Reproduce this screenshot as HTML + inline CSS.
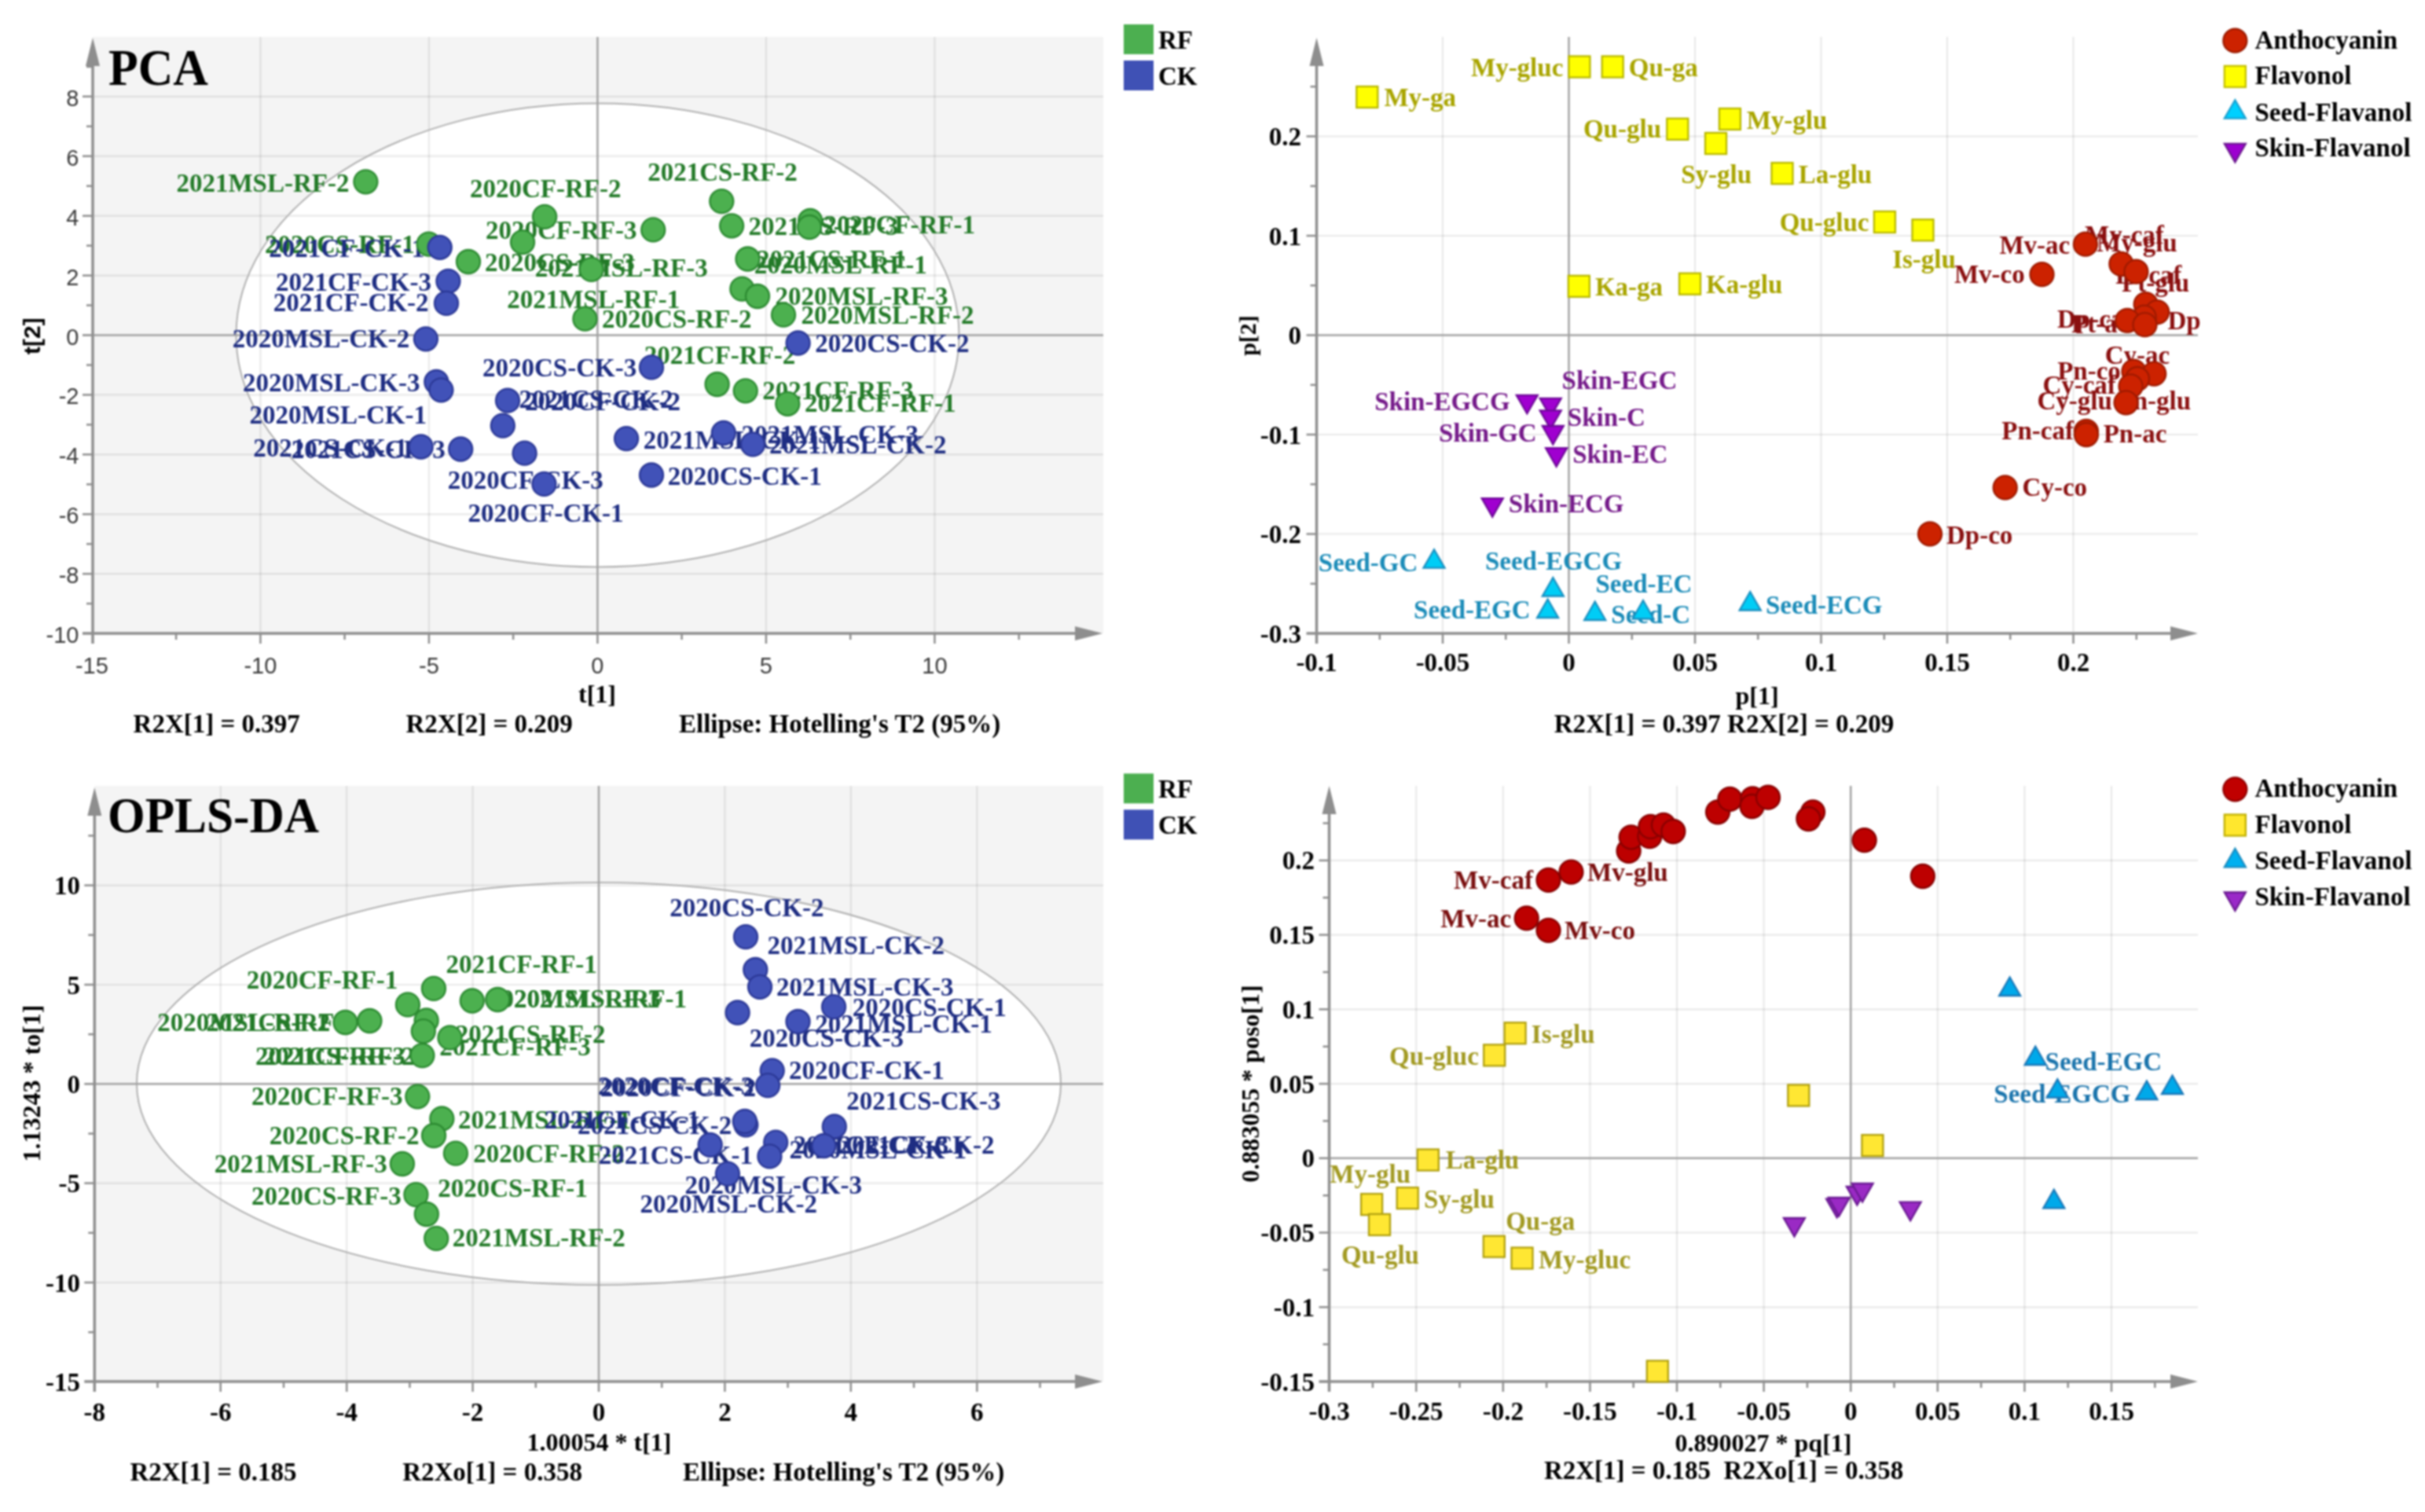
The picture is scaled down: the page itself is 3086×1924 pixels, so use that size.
<!DOCTYPE html>
<html><head><meta charset="utf-8"><style>html,body{margin:0;padding:0;background:#fff;width:3086px;height:1924px;overflow:hidden}svg{display:block;filter:blur(0.9px)}</style></head><body>
<svg width="3086" height="1924" viewBox="0 0 3086 1924">
<rect width="3086" height="1924" fill="#fff"/>
<rect x="118" y="47" width="1286" height="759" fill="#f4f4f4"/>
<ellipse cx="760.5" cy="426.4" rx="460" ry="295" fill="#fff"/>
<line x1="331.4" y1="47" x2="331.4" y2="806" stroke="#000" stroke-opacity="0.085" stroke-width="2.2"/>
<line x1="545.9" y1="47" x2="545.9" y2="806" stroke="#000" stroke-opacity="0.085" stroke-width="2.2"/>
<line x1="974.9" y1="47" x2="974.9" y2="806" stroke="#000" stroke-opacity="0.085" stroke-width="2.2"/>
<line x1="1189.4" y1="47" x2="1189.4" y2="806" stroke="#000" stroke-opacity="0.085" stroke-width="2.2"/>
<line x1="118" y1="730.2" x2="1404" y2="730.2" stroke="#000" stroke-opacity="0.085" stroke-width="2.2"/>
<line x1="118" y1="654.3" x2="1404" y2="654.3" stroke="#000" stroke-opacity="0.085" stroke-width="2.2"/>
<line x1="118" y1="578.3" x2="1404" y2="578.3" stroke="#000" stroke-opacity="0.085" stroke-width="2.2"/>
<line x1="118" y1="502.4" x2="1404" y2="502.4" stroke="#000" stroke-opacity="0.085" stroke-width="2.2"/>
<line x1="118" y1="350.6" x2="1404" y2="350.6" stroke="#000" stroke-opacity="0.085" stroke-width="2.2"/>
<line x1="118" y1="274.7" x2="1404" y2="274.7" stroke="#000" stroke-opacity="0.085" stroke-width="2.2"/>
<line x1="118" y1="198.7" x2="1404" y2="198.7" stroke="#000" stroke-opacity="0.085" stroke-width="2.2"/>
<line x1="118" y1="122.8" x2="1404" y2="122.8" stroke="#000" stroke-opacity="0.085" stroke-width="2.2"/>
<ellipse cx="760.5" cy="426.4" rx="460" ry="295" fill="none" stroke="#b0b0b0" stroke-width="2"/>
<line x1="760.4" y1="47" x2="760.4" y2="806" stroke="#a2a2a2" stroke-width="2.5"/>
<line x1="118" y1="426.5" x2="1404" y2="426.5" stroke="#a2a2a2" stroke-width="2.5"/>
<line x1="118" y1="78" x2="118" y2="819" stroke="#8e8e8e" stroke-width="3.5"/>
<line x1="105" y1="806" x2="1373" y2="806" stroke="#8e8e8e" stroke-width="3.5"/>
<path d="M118 48 L127 84 L109 84 Z" fill="#8e8e8e"/>
<path d="M1403 806 L1368 797 L1368 815 Z" fill="#8e8e8e"/>
<line x1="331.4" y1="806" x2="331.4" y2="819" stroke="#8e8e8e" stroke-width="2.5"/>
<line x1="545.9" y1="806" x2="545.9" y2="819" stroke="#8e8e8e" stroke-width="2.5"/>
<line x1="760.4" y1="806" x2="760.4" y2="819" stroke="#8e8e8e" stroke-width="2.5"/>
<line x1="974.9" y1="806" x2="974.9" y2="819" stroke="#8e8e8e" stroke-width="2.5"/>
<line x1="1189.4" y1="806" x2="1189.4" y2="819" stroke="#8e8e8e" stroke-width="2.5"/>
<line x1="224.1" y1="806" x2="224.1" y2="814" stroke="#8e8e8e" stroke-width="2.5"/>
<line x1="438.6" y1="806" x2="438.6" y2="814" stroke="#8e8e8e" stroke-width="2.5"/>
<line x1="653.1" y1="806" x2="653.1" y2="814" stroke="#8e8e8e" stroke-width="2.5"/>
<line x1="867.6" y1="806" x2="867.6" y2="814" stroke="#8e8e8e" stroke-width="2.5"/>
<line x1="1082.2" y1="806" x2="1082.2" y2="814" stroke="#8e8e8e" stroke-width="2.5"/>
<line x1="1296.7" y1="806" x2="1296.7" y2="814" stroke="#8e8e8e" stroke-width="2.5"/>
<line x1="105" y1="730.2" x2="118" y2="730.2" stroke="#8e8e8e" stroke-width="2.5"/>
<line x1="105" y1="654.3" x2="118" y2="654.3" stroke="#8e8e8e" stroke-width="2.5"/>
<line x1="105" y1="578.3" x2="118" y2="578.3" stroke="#8e8e8e" stroke-width="2.5"/>
<line x1="105" y1="502.4" x2="118" y2="502.4" stroke="#8e8e8e" stroke-width="2.5"/>
<line x1="105" y1="426.5" x2="118" y2="426.5" stroke="#8e8e8e" stroke-width="2.5"/>
<line x1="105" y1="350.6" x2="118" y2="350.6" stroke="#8e8e8e" stroke-width="2.5"/>
<line x1="105" y1="274.7" x2="118" y2="274.7" stroke="#8e8e8e" stroke-width="2.5"/>
<line x1="105" y1="198.7" x2="118" y2="198.7" stroke="#8e8e8e" stroke-width="2.5"/>
<line x1="105" y1="122.8" x2="118" y2="122.8" stroke="#8e8e8e" stroke-width="2.5"/>
<line x1="110" y1="768.1" x2="118" y2="768.1" stroke="#8e8e8e" stroke-width="2.5"/>
<line x1="110" y1="692.2" x2="118" y2="692.2" stroke="#8e8e8e" stroke-width="2.5"/>
<line x1="110" y1="616.3" x2="118" y2="616.3" stroke="#8e8e8e" stroke-width="2.5"/>
<line x1="110" y1="540.4" x2="118" y2="540.4" stroke="#8e8e8e" stroke-width="2.5"/>
<line x1="110" y1="464.5" x2="118" y2="464.5" stroke="#8e8e8e" stroke-width="2.5"/>
<line x1="110" y1="388.5" x2="118" y2="388.5" stroke="#8e8e8e" stroke-width="2.5"/>
<line x1="110" y1="312.6" x2="118" y2="312.6" stroke="#8e8e8e" stroke-width="2.5"/>
<line x1="110" y1="236.7" x2="118" y2="236.7" stroke="#8e8e8e" stroke-width="2.5"/>
<line x1="110" y1="160.8" x2="118" y2="160.8" stroke="#8e8e8e" stroke-width="2.5"/>
<line x1="110" y1="84.9" x2="118" y2="84.9" stroke="#8e8e8e" stroke-width="2.5"/>
<text x="116.9" y="857.0" font-family="Liberation Sans" font-size="29" fill="#3a3a3a" text-anchor="middle" >-15</text>
<text x="331.4" y="857.0" font-family="Liberation Sans" font-size="29" fill="#3a3a3a" text-anchor="middle" >-10</text>
<text x="545.9" y="857.0" font-family="Liberation Sans" font-size="29" fill="#3a3a3a" text-anchor="middle" >-5</text>
<text x="760.4" y="857.0" font-family="Liberation Sans" font-size="29" fill="#3a3a3a" text-anchor="middle" >0</text>
<text x="974.9" y="857.0" font-family="Liberation Sans" font-size="29" fill="#3a3a3a" text-anchor="middle" >5</text>
<text x="1189.4" y="857.0" font-family="Liberation Sans" font-size="29" fill="#3a3a3a" text-anchor="middle" >10</text>
<text x="100.5" y="818.1" font-family="Liberation Sans" font-size="29" fill="#3a3a3a" text-anchor="end" >-10</text>
<text x="100.5" y="742.2" font-family="Liberation Sans" font-size="29" fill="#3a3a3a" text-anchor="end" >-8</text>
<text x="100.5" y="666.3" font-family="Liberation Sans" font-size="29" fill="#3a3a3a" text-anchor="end" >-6</text>
<text x="100.5" y="590.3" font-family="Liberation Sans" font-size="29" fill="#3a3a3a" text-anchor="end" >-4</text>
<text x="100.5" y="514.4" font-family="Liberation Sans" font-size="29" fill="#3a3a3a" text-anchor="end" >-2</text>
<text x="100.5" y="438.5" font-family="Liberation Sans" font-size="29" fill="#3a3a3a" text-anchor="end" >0</text>
<text x="100.5" y="362.6" font-family="Liberation Sans" font-size="29" fill="#3a3a3a" text-anchor="end" >2</text>
<text x="100.5" y="286.7" font-family="Liberation Sans" font-size="29" fill="#3a3a3a" text-anchor="end" >4</text>
<text x="100.5" y="210.7" font-family="Liberation Sans" font-size="29" fill="#3a3a3a" text-anchor="end" >6</text>
<text x="100.5" y="134.8" font-family="Liberation Sans" font-size="29" fill="#3a3a3a" text-anchor="end" >8</text>
<rect x="120.3" y="1000" width="1283.7" height="758" fill="#f4f4f4"/>
<ellipse cx="762" cy="1378.9" rx="588" ry="256" fill="#fff"/>
<line x1="280.7" y1="1000" x2="280.7" y2="1758" stroke="#000" stroke-opacity="0.085" stroke-width="2.2"/>
<line x1="441.2" y1="1000" x2="441.2" y2="1758" stroke="#000" stroke-opacity="0.085" stroke-width="2.2"/>
<line x1="601.6" y1="1000" x2="601.6" y2="1758" stroke="#000" stroke-opacity="0.085" stroke-width="2.2"/>
<line x1="922.4" y1="1000" x2="922.4" y2="1758" stroke="#000" stroke-opacity="0.085" stroke-width="2.2"/>
<line x1="1082.8" y1="1000" x2="1082.8" y2="1758" stroke="#000" stroke-opacity="0.085" stroke-width="2.2"/>
<line x1="1243.3" y1="1000" x2="1243.3" y2="1758" stroke="#000" stroke-opacity="0.085" stroke-width="2.2"/>
<line x1="120.3" y1="1632.0" x2="1404" y2="1632.0" stroke="#000" stroke-opacity="0.085" stroke-width="2.2"/>
<line x1="120.3" y1="1505.6" x2="1404" y2="1505.6" stroke="#000" stroke-opacity="0.085" stroke-width="2.2"/>
<line x1="120.3" y1="1253.0" x2="1404" y2="1253.0" stroke="#000" stroke-opacity="0.085" stroke-width="2.2"/>
<line x1="120.3" y1="1126.6" x2="1404" y2="1126.6" stroke="#000" stroke-opacity="0.085" stroke-width="2.2"/>
<ellipse cx="762" cy="1378.9" rx="588" ry="256" fill="none" stroke="#b0b0b0" stroke-width="2"/>
<line x1="762.0" y1="1000" x2="762.0" y2="1758" stroke="#a2a2a2" stroke-width="2.5"/>
<line x1="120.3" y1="1379.3" x2="1404" y2="1379.3" stroke="#a2a2a2" stroke-width="2.5"/>
<line x1="120.3" y1="1032" x2="120.3" y2="1771" stroke="#8e8e8e" stroke-width="3.5"/>
<line x1="107.3" y1="1758" x2="1373" y2="1758" stroke="#8e8e8e" stroke-width="3.5"/>
<path d="M120.3 1002 L129.3 1038 L111.3 1038 Z" fill="#8e8e8e"/>
<path d="M1403 1758 L1368 1749 L1368 1767 Z" fill="#8e8e8e"/>
<line x1="280.7" y1="1758" x2="280.7" y2="1771" stroke="#8e8e8e" stroke-width="2.5"/>
<line x1="441.2" y1="1758" x2="441.2" y2="1771" stroke="#8e8e8e" stroke-width="2.5"/>
<line x1="601.6" y1="1758" x2="601.6" y2="1771" stroke="#8e8e8e" stroke-width="2.5"/>
<line x1="762.0" y1="1758" x2="762.0" y2="1771" stroke="#8e8e8e" stroke-width="2.5"/>
<line x1="922.4" y1="1758" x2="922.4" y2="1771" stroke="#8e8e8e" stroke-width="2.5"/>
<line x1="1082.8" y1="1758" x2="1082.8" y2="1771" stroke="#8e8e8e" stroke-width="2.5"/>
<line x1="1243.3" y1="1758" x2="1243.3" y2="1771" stroke="#8e8e8e" stroke-width="2.5"/>
<line x1="200.5" y1="1758" x2="200.5" y2="1766" stroke="#8e8e8e" stroke-width="2.5"/>
<line x1="361.0" y1="1758" x2="361.0" y2="1766" stroke="#8e8e8e" stroke-width="2.5"/>
<line x1="521.4" y1="1758" x2="521.4" y2="1766" stroke="#8e8e8e" stroke-width="2.5"/>
<line x1="681.8" y1="1758" x2="681.8" y2="1766" stroke="#8e8e8e" stroke-width="2.5"/>
<line x1="842.2" y1="1758" x2="842.2" y2="1766" stroke="#8e8e8e" stroke-width="2.5"/>
<line x1="1002.6" y1="1758" x2="1002.6" y2="1766" stroke="#8e8e8e" stroke-width="2.5"/>
<line x1="1163.0" y1="1758" x2="1163.0" y2="1766" stroke="#8e8e8e" stroke-width="2.5"/>
<line x1="1323.5" y1="1758" x2="1323.5" y2="1766" stroke="#8e8e8e" stroke-width="2.5"/>
<line x1="107.3" y1="1632.0" x2="120.3" y2="1632.0" stroke="#8e8e8e" stroke-width="2.5"/>
<line x1="107.3" y1="1505.6" x2="120.3" y2="1505.6" stroke="#8e8e8e" stroke-width="2.5"/>
<line x1="107.3" y1="1379.3" x2="120.3" y2="1379.3" stroke="#8e8e8e" stroke-width="2.5"/>
<line x1="107.3" y1="1253.0" x2="120.3" y2="1253.0" stroke="#8e8e8e" stroke-width="2.5"/>
<line x1="107.3" y1="1126.6" x2="120.3" y2="1126.6" stroke="#8e8e8e" stroke-width="2.5"/>
<line x1="112.3" y1="1695.2" x2="120.3" y2="1695.2" stroke="#8e8e8e" stroke-width="2.5"/>
<line x1="112.3" y1="1568.8" x2="120.3" y2="1568.8" stroke="#8e8e8e" stroke-width="2.5"/>
<line x1="112.3" y1="1442.5" x2="120.3" y2="1442.5" stroke="#8e8e8e" stroke-width="2.5"/>
<line x1="112.3" y1="1316.1" x2="120.3" y2="1316.1" stroke="#8e8e8e" stroke-width="2.5"/>
<line x1="112.3" y1="1189.8" x2="120.3" y2="1189.8" stroke="#8e8e8e" stroke-width="2.5"/>
<line x1="112.3" y1="1063.4" x2="120.3" y2="1063.4" stroke="#8e8e8e" stroke-width="2.5"/>
<text x="120.3" y="1808.0" font-family="Liberation Serif" font-weight="bold" font-size="33" fill="#000" text-anchor="middle" >-8</text>
<text x="280.7" y="1808.0" font-family="Liberation Serif" font-weight="bold" font-size="33" fill="#000" text-anchor="middle" >-6</text>
<text x="441.2" y="1808.0" font-family="Liberation Serif" font-weight="bold" font-size="33" fill="#000" text-anchor="middle" >-4</text>
<text x="601.6" y="1808.0" font-family="Liberation Serif" font-weight="bold" font-size="33" fill="#000" text-anchor="middle" >-2</text>
<text x="762.0" y="1808.0" font-family="Liberation Serif" font-weight="bold" font-size="33" fill="#000" text-anchor="middle" >0</text>
<text x="922.4" y="1808.0" font-family="Liberation Serif" font-weight="bold" font-size="33" fill="#000" text-anchor="middle" >2</text>
<text x="1082.8" y="1808.0" font-family="Liberation Serif" font-weight="bold" font-size="33" fill="#000" text-anchor="middle" >4</text>
<text x="1243.3" y="1808.0" font-family="Liberation Serif" font-weight="bold" font-size="33" fill="#000" text-anchor="middle" >6</text>
<text x="102.0" y="1769.8" font-family="Liberation Serif" font-weight="bold" font-size="33" fill="#000" text-anchor="end" >-15</text>
<text x="102.0" y="1643.5" font-family="Liberation Serif" font-weight="bold" font-size="33" fill="#000" text-anchor="end" >-10</text>
<text x="102.0" y="1517.1" font-family="Liberation Serif" font-weight="bold" font-size="33" fill="#000" text-anchor="end" >-5</text>
<text x="102.0" y="1390.8" font-family="Liberation Serif" font-weight="bold" font-size="33" fill="#000" text-anchor="end" >0</text>
<text x="102.0" y="1264.5" font-family="Liberation Serif" font-weight="bold" font-size="33" fill="#000" text-anchor="end" >5</text>
<text x="102.0" y="1138.1" font-family="Liberation Serif" font-weight="bold" font-size="33" fill="#000" text-anchor="end" >10</text>
<line x1="1836.0" y1="47" x2="1836.0" y2="806" stroke="#000" stroke-opacity="0.085" stroke-width="2.2"/>
<line x1="2157.0" y1="47" x2="2157.0" y2="806" stroke="#000" stroke-opacity="0.085" stroke-width="2.2"/>
<line x1="2317.5" y1="47" x2="2317.5" y2="806" stroke="#000" stroke-opacity="0.085" stroke-width="2.2"/>
<line x1="2478.0" y1="47" x2="2478.0" y2="806" stroke="#000" stroke-opacity="0.085" stroke-width="2.2"/>
<line x1="2638.5" y1="47" x2="2638.5" y2="806" stroke="#000" stroke-opacity="0.085" stroke-width="2.2"/>
<line x1="1675.5" y1="679.5" x2="2797" y2="679.5" stroke="#000" stroke-opacity="0.085" stroke-width="2.2"/>
<line x1="1675.5" y1="553.0" x2="2797" y2="553.0" stroke="#000" stroke-opacity="0.085" stroke-width="2.2"/>
<line x1="1675.5" y1="300.0" x2="2797" y2="300.0" stroke="#000" stroke-opacity="0.085" stroke-width="2.2"/>
<line x1="1675.5" y1="173.5" x2="2797" y2="173.5" stroke="#000" stroke-opacity="0.085" stroke-width="2.2"/>
<line x1="1996.5" y1="47" x2="1996.5" y2="806" stroke="#a2a2a2" stroke-width="2.5"/>
<line x1="1675.5" y1="426.5" x2="2797" y2="426.5" stroke="#a2a2a2" stroke-width="2.5"/>
<line x1="1675.5" y1="78" x2="1675.5" y2="819" stroke="#8e8e8e" stroke-width="3.5"/>
<line x1="1662.5" y1="806" x2="2767" y2="806" stroke="#8e8e8e" stroke-width="3.5"/>
<path d="M1675.5 48 L1684.5 84 L1666.5 84 Z" fill="#8e8e8e"/>
<path d="M2797 806 L2762 797 L2762 815 Z" fill="#8e8e8e"/>
<line x1="1836.0" y1="806" x2="1836.0" y2="819" stroke="#8e8e8e" stroke-width="2.5"/>
<line x1="1996.5" y1="806" x2="1996.5" y2="819" stroke="#8e8e8e" stroke-width="2.5"/>
<line x1="2157.0" y1="806" x2="2157.0" y2="819" stroke="#8e8e8e" stroke-width="2.5"/>
<line x1="2317.5" y1="806" x2="2317.5" y2="819" stroke="#8e8e8e" stroke-width="2.5"/>
<line x1="2478.0" y1="806" x2="2478.0" y2="819" stroke="#8e8e8e" stroke-width="2.5"/>
<line x1="2638.5" y1="806" x2="2638.5" y2="819" stroke="#8e8e8e" stroke-width="2.5"/>
<line x1="1755.8" y1="806" x2="1755.8" y2="814" stroke="#8e8e8e" stroke-width="2.5"/>
<line x1="1916.2" y1="806" x2="1916.2" y2="814" stroke="#8e8e8e" stroke-width="2.5"/>
<line x1="2076.8" y1="806" x2="2076.8" y2="814" stroke="#8e8e8e" stroke-width="2.5"/>
<line x1="2237.2" y1="806" x2="2237.2" y2="814" stroke="#8e8e8e" stroke-width="2.5"/>
<line x1="2397.8" y1="806" x2="2397.8" y2="814" stroke="#8e8e8e" stroke-width="2.5"/>
<line x1="2558.2" y1="806" x2="2558.2" y2="814" stroke="#8e8e8e" stroke-width="2.5"/>
<line x1="2718.8" y1="806" x2="2718.8" y2="814" stroke="#8e8e8e" stroke-width="2.5"/>
<line x1="1662.5" y1="679.5" x2="1675.5" y2="679.5" stroke="#8e8e8e" stroke-width="2.5"/>
<line x1="1662.5" y1="553.0" x2="1675.5" y2="553.0" stroke="#8e8e8e" stroke-width="2.5"/>
<line x1="1662.5" y1="426.5" x2="1675.5" y2="426.5" stroke="#8e8e8e" stroke-width="2.5"/>
<line x1="1662.5" y1="300.0" x2="1675.5" y2="300.0" stroke="#8e8e8e" stroke-width="2.5"/>
<line x1="1662.5" y1="173.5" x2="1675.5" y2="173.5" stroke="#8e8e8e" stroke-width="2.5"/>
<line x1="1667.5" y1="742.8" x2="1675.5" y2="742.8" stroke="#8e8e8e" stroke-width="2.5"/>
<line x1="1667.5" y1="616.2" x2="1675.5" y2="616.2" stroke="#8e8e8e" stroke-width="2.5"/>
<line x1="1667.5" y1="489.8" x2="1675.5" y2="489.8" stroke="#8e8e8e" stroke-width="2.5"/>
<line x1="1667.5" y1="363.2" x2="1675.5" y2="363.2" stroke="#8e8e8e" stroke-width="2.5"/>
<line x1="1667.5" y1="236.8" x2="1675.5" y2="236.8" stroke="#8e8e8e" stroke-width="2.5"/>
<line x1="1667.5" y1="110.2" x2="1675.5" y2="110.2" stroke="#8e8e8e" stroke-width="2.5"/>
<text x="1675.5" y="854.0" font-family="Liberation Serif" font-weight="bold" font-size="33" fill="#000" text-anchor="middle" >-0.1</text>
<text x="1836.0" y="854.0" font-family="Liberation Serif" font-weight="bold" font-size="33" fill="#000" text-anchor="middle" >-0.05</text>
<text x="1996.5" y="854.0" font-family="Liberation Serif" font-weight="bold" font-size="33" fill="#000" text-anchor="middle" >0</text>
<text x="2157.0" y="854.0" font-family="Liberation Serif" font-weight="bold" font-size="33" fill="#000" text-anchor="middle" >0.05</text>
<text x="2317.5" y="854.0" font-family="Liberation Serif" font-weight="bold" font-size="33" fill="#000" text-anchor="middle" >0.1</text>
<text x="2478.0" y="854.0" font-family="Liberation Serif" font-weight="bold" font-size="33" fill="#000" text-anchor="middle" >0.15</text>
<text x="2638.5" y="854.0" font-family="Liberation Serif" font-weight="bold" font-size="33" fill="#000" text-anchor="middle" >0.2</text>
<text x="1656.0" y="817.5" font-family="Liberation Serif" font-weight="bold" font-size="33" fill="#000" text-anchor="end" >-0.3</text>
<text x="1656.0" y="691.0" font-family="Liberation Serif" font-weight="bold" font-size="33" fill="#000" text-anchor="end" >-0.2</text>
<text x="1656.0" y="564.5" font-family="Liberation Serif" font-weight="bold" font-size="33" fill="#000" text-anchor="end" >-0.1</text>
<text x="1656.0" y="438.0" font-family="Liberation Serif" font-weight="bold" font-size="33" fill="#000" text-anchor="end" >0</text>
<text x="1656.0" y="311.5" font-family="Liberation Serif" font-weight="bold" font-size="33" fill="#000" text-anchor="end" >0.1</text>
<text x="1656.0" y="185.0" font-family="Liberation Serif" font-weight="bold" font-size="33" fill="#000" text-anchor="end" >0.2</text>
<line x1="1802.2" y1="1000" x2="1802.2" y2="1758" stroke="#000" stroke-opacity="0.085" stroke-width="2.2"/>
<line x1="1912.8" y1="1000" x2="1912.8" y2="1758" stroke="#000" stroke-opacity="0.085" stroke-width="2.2"/>
<line x1="2023.4" y1="1000" x2="2023.4" y2="1758" stroke="#000" stroke-opacity="0.085" stroke-width="2.2"/>
<line x1="2134.0" y1="1000" x2="2134.0" y2="1758" stroke="#000" stroke-opacity="0.085" stroke-width="2.2"/>
<line x1="2244.6" y1="1000" x2="2244.6" y2="1758" stroke="#000" stroke-opacity="0.085" stroke-width="2.2"/>
<line x1="2465.8" y1="1000" x2="2465.8" y2="1758" stroke="#000" stroke-opacity="0.085" stroke-width="2.2"/>
<line x1="2576.4" y1="1000" x2="2576.4" y2="1758" stroke="#000" stroke-opacity="0.085" stroke-width="2.2"/>
<line x1="2687.0" y1="1000" x2="2687.0" y2="1758" stroke="#000" stroke-opacity="0.085" stroke-width="2.2"/>
<line x1="1691.5" y1="1663.3" x2="2797" y2="1663.3" stroke="#000" stroke-opacity="0.085" stroke-width="2.2"/>
<line x1="1691.5" y1="1568.5" x2="2797" y2="1568.5" stroke="#000" stroke-opacity="0.085" stroke-width="2.2"/>
<line x1="1691.5" y1="1379.1" x2="2797" y2="1379.1" stroke="#000" stroke-opacity="0.085" stroke-width="2.2"/>
<line x1="1691.5" y1="1284.3" x2="2797" y2="1284.3" stroke="#000" stroke-opacity="0.085" stroke-width="2.2"/>
<line x1="1691.5" y1="1189.6" x2="2797" y2="1189.6" stroke="#000" stroke-opacity="0.085" stroke-width="2.2"/>
<line x1="1691.5" y1="1094.9" x2="2797" y2="1094.9" stroke="#000" stroke-opacity="0.085" stroke-width="2.2"/>
<line x1="2355.2" y1="1000" x2="2355.2" y2="1758" stroke="#a2a2a2" stroke-width="2.5"/>
<line x1="1691.5" y1="1473.8" x2="2797" y2="1473.8" stroke="#a2a2a2" stroke-width="2.5"/>
<line x1="1691.5" y1="1030" x2="1691.5" y2="1771" stroke="#8e8e8e" stroke-width="3.5"/>
<line x1="1678.5" y1="1758" x2="2767" y2="1758" stroke="#8e8e8e" stroke-width="3.5"/>
<path d="M1691.5 1000 L1700.5 1036 L1682.5 1036 Z" fill="#8e8e8e"/>
<path d="M2797 1758 L2762 1749 L2762 1767 Z" fill="#8e8e8e"/>
<line x1="1802.2" y1="1758" x2="1802.2" y2="1771" stroke="#8e8e8e" stroke-width="2.5"/>
<line x1="1912.8" y1="1758" x2="1912.8" y2="1771" stroke="#8e8e8e" stroke-width="2.5"/>
<line x1="2023.4" y1="1758" x2="2023.4" y2="1771" stroke="#8e8e8e" stroke-width="2.5"/>
<line x1="2134.0" y1="1758" x2="2134.0" y2="1771" stroke="#8e8e8e" stroke-width="2.5"/>
<line x1="2244.6" y1="1758" x2="2244.6" y2="1771" stroke="#8e8e8e" stroke-width="2.5"/>
<line x1="2355.2" y1="1758" x2="2355.2" y2="1771" stroke="#8e8e8e" stroke-width="2.5"/>
<line x1="2465.8" y1="1758" x2="2465.8" y2="1771" stroke="#8e8e8e" stroke-width="2.5"/>
<line x1="2576.4" y1="1758" x2="2576.4" y2="1771" stroke="#8e8e8e" stroke-width="2.5"/>
<line x1="2687.0" y1="1758" x2="2687.0" y2="1771" stroke="#8e8e8e" stroke-width="2.5"/>
<line x1="1746.9" y1="1758" x2="1746.9" y2="1766" stroke="#8e8e8e" stroke-width="2.5"/>
<line x1="1857.5" y1="1758" x2="1857.5" y2="1766" stroke="#8e8e8e" stroke-width="2.5"/>
<line x1="1968.1" y1="1758" x2="1968.1" y2="1766" stroke="#8e8e8e" stroke-width="2.5"/>
<line x1="2078.7" y1="1758" x2="2078.7" y2="1766" stroke="#8e8e8e" stroke-width="2.5"/>
<line x1="2189.3" y1="1758" x2="2189.3" y2="1766" stroke="#8e8e8e" stroke-width="2.5"/>
<line x1="2299.9" y1="1758" x2="2299.9" y2="1766" stroke="#8e8e8e" stroke-width="2.5"/>
<line x1="2410.5" y1="1758" x2="2410.5" y2="1766" stroke="#8e8e8e" stroke-width="2.5"/>
<line x1="2521.1" y1="1758" x2="2521.1" y2="1766" stroke="#8e8e8e" stroke-width="2.5"/>
<line x1="2631.7" y1="1758" x2="2631.7" y2="1766" stroke="#8e8e8e" stroke-width="2.5"/>
<line x1="2742.3" y1="1758" x2="2742.3" y2="1766" stroke="#8e8e8e" stroke-width="2.5"/>
<line x1="1678.5" y1="1663.3" x2="1691.5" y2="1663.3" stroke="#8e8e8e" stroke-width="2.5"/>
<line x1="1678.5" y1="1568.5" x2="1691.5" y2="1568.5" stroke="#8e8e8e" stroke-width="2.5"/>
<line x1="1678.5" y1="1473.8" x2="1691.5" y2="1473.8" stroke="#8e8e8e" stroke-width="2.5"/>
<line x1="1678.5" y1="1379.1" x2="1691.5" y2="1379.1" stroke="#8e8e8e" stroke-width="2.5"/>
<line x1="1678.5" y1="1284.3" x2="1691.5" y2="1284.3" stroke="#8e8e8e" stroke-width="2.5"/>
<line x1="1678.5" y1="1189.6" x2="1691.5" y2="1189.6" stroke="#8e8e8e" stroke-width="2.5"/>
<line x1="1678.5" y1="1094.9" x2="1691.5" y2="1094.9" stroke="#8e8e8e" stroke-width="2.5"/>
<line x1="1683.5" y1="1710.6" x2="1691.5" y2="1710.6" stroke="#8e8e8e" stroke-width="2.5"/>
<line x1="1683.5" y1="1615.9" x2="1691.5" y2="1615.9" stroke="#8e8e8e" stroke-width="2.5"/>
<line x1="1683.5" y1="1521.2" x2="1691.5" y2="1521.2" stroke="#8e8e8e" stroke-width="2.5"/>
<line x1="1683.5" y1="1426.4" x2="1691.5" y2="1426.4" stroke="#8e8e8e" stroke-width="2.5"/>
<line x1="1683.5" y1="1331.7" x2="1691.5" y2="1331.7" stroke="#8e8e8e" stroke-width="2.5"/>
<line x1="1683.5" y1="1237.0" x2="1691.5" y2="1237.0" stroke="#8e8e8e" stroke-width="2.5"/>
<line x1="1683.5" y1="1142.2" x2="1691.5" y2="1142.2" stroke="#8e8e8e" stroke-width="2.5"/>
<line x1="1683.5" y1="1047.5" x2="1691.5" y2="1047.5" stroke="#8e8e8e" stroke-width="2.5"/>
<text x="1691.6" y="1807.0" font-family="Liberation Serif" font-weight="bold" font-size="33" fill="#000" text-anchor="middle" >-0.3</text>
<text x="1802.2" y="1807.0" font-family="Liberation Serif" font-weight="bold" font-size="33" fill="#000" text-anchor="middle" >-0.25</text>
<text x="1912.8" y="1807.0" font-family="Liberation Serif" font-weight="bold" font-size="33" fill="#000" text-anchor="middle" >-0.2</text>
<text x="2023.4" y="1807.0" font-family="Liberation Serif" font-weight="bold" font-size="33" fill="#000" text-anchor="middle" >-0.15</text>
<text x="2134.0" y="1807.0" font-family="Liberation Serif" font-weight="bold" font-size="33" fill="#000" text-anchor="middle" >-0.1</text>
<text x="2244.6" y="1807.0" font-family="Liberation Serif" font-weight="bold" font-size="33" fill="#000" text-anchor="middle" >-0.05</text>
<text x="2355.2" y="1807.0" font-family="Liberation Serif" font-weight="bold" font-size="33" fill="#000" text-anchor="middle" >0</text>
<text x="2465.8" y="1807.0" font-family="Liberation Serif" font-weight="bold" font-size="33" fill="#000" text-anchor="middle" >0.05</text>
<text x="2576.4" y="1807.0" font-family="Liberation Serif" font-weight="bold" font-size="33" fill="#000" text-anchor="middle" >0.1</text>
<text x="2687.0" y="1807.0" font-family="Liberation Serif" font-weight="bold" font-size="33" fill="#000" text-anchor="middle" >0.15</text>
<text x="1673.0" y="1769.5" font-family="Liberation Serif" font-weight="bold" font-size="33" fill="#000" text-anchor="end" >-0.15</text>
<text x="1673.0" y="1674.8" font-family="Liberation Serif" font-weight="bold" font-size="33" fill="#000" text-anchor="end" >-0.1</text>
<text x="1673.0" y="1580.0" font-family="Liberation Serif" font-weight="bold" font-size="33" fill="#000" text-anchor="end" >-0.05</text>
<text x="1673.0" y="1485.3" font-family="Liberation Serif" font-weight="bold" font-size="33" fill="#000" text-anchor="end" >0</text>
<text x="1673.0" y="1390.6" font-family="Liberation Serif" font-weight="bold" font-size="33" fill="#000" text-anchor="end" >0.05</text>
<text x="1673.0" y="1295.8" font-family="Liberation Serif" font-weight="bold" font-size="33" fill="#000" text-anchor="end" >0.1</text>
<text x="1673.0" y="1201.1" font-family="Liberation Serif" font-weight="bold" font-size="33" fill="#000" text-anchor="end" >0.15</text>
<text x="1673.0" y="1106.4" font-family="Liberation Serif" font-weight="bold" font-size="33" fill="#000" text-anchor="end" >0.2</text>
<text x="138.0" y="108.0" font-family="Liberation Serif" font-weight="bold" font-size="66" fill="#000" text-anchor="start" textLength="127" lengthAdjust="spacingAndGlyphs">PCA</text>
<text x="137.0" y="1059.0" font-family="Liberation Serif" font-weight="bold" font-size="64" fill="#000" text-anchor="start" textLength="269" lengthAdjust="spacingAndGlyphs">OPLS-DA</text>
<text transform="translate(50.5,427.6) rotate(-90)" font-family="Liberation Sans" font-weight="bold" font-size="30" text-anchor="middle" fill="#000">t[2]</text>
<text x="760.0" y="894.0" font-family="Liberation Serif" font-weight="bold" font-size="32" fill="#000" text-anchor="middle" >t[1]</text>
<text x="169.6" y="932.0" font-family="Liberation Serif" font-weight="bold" font-size="33" fill="#000" text-anchor="start" >R2X[1] = 0.397</text>
<text x="516.5" y="932.0" font-family="Liberation Serif" font-weight="bold" font-size="33" fill="#000" text-anchor="start" >R2X[2] = 0.209</text>
<text x="864.0" y="932.0" font-family="Liberation Serif" font-weight="bold" font-size="33" fill="#000" text-anchor="start" >Ellipse: Hotelling's T2 (95%)</text>
<text transform="translate(51,1378.5) rotate(-90)" font-family="Liberation Serif" font-weight="bold" font-size="32" text-anchor="middle" fill="#000">1.13243 * to[1]</text>
<text x="762.5" y="1846.0" font-family="Liberation Serif" font-weight="bold" font-size="32" fill="#000" text-anchor="middle" >1.00054 * t[1]</text>
<text x="165.4" y="1883.5" font-family="Liberation Serif" font-weight="bold" font-size="33" fill="#000" text-anchor="start" >R2X[1] = 0.185</text>
<text x="512.2" y="1883.5" font-family="Liberation Serif" font-weight="bold" font-size="33" fill="#000" text-anchor="start" >R2Xo[1] = 0.358</text>
<text x="869.0" y="1883.5" font-family="Liberation Serif" font-weight="bold" font-size="33" fill="#000" text-anchor="start" >Ellipse: Hotelling's T2 (95%)</text>
<text transform="translate(1598,427) rotate(-90)" font-family="Liberation Serif" font-weight="bold" font-size="30" text-anchor="middle" fill="#000">p[2]</text>
<text x="2236.0" y="895.5" font-family="Liberation Serif" font-weight="bold" font-size="32" fill="#000" text-anchor="middle" >p[1]</text>
<text x="2194.0" y="931.5" font-family="Liberation Serif" font-weight="bold" font-size="33" fill="#000" text-anchor="middle" >R2X[1] = 0.397 R2X[2] = 0.209</text>
<text transform="translate(1601.5,1379) rotate(-90)" font-family="Liberation Serif" font-weight="bold" font-size="32" text-anchor="middle" fill="#000">0.883055 * poso[1]</text>
<text x="2244.0" y="1847.0" font-family="Liberation Serif" font-weight="bold" font-size="32" fill="#000" text-anchor="middle" >0.890027 * pq[1]</text>
<text x="2193.6" y="1882.3" font-family="Liberation Serif" font-weight="bold" font-size="33" fill="#000" text-anchor="middle" xml:space="preserve">R2X[1] = 0.185  R2Xo[1] = 0.358</text>
<rect x="1430" y="31" width="38" height="38" fill="#4caf50"/>
<rect x="1430" y="77" width="38" height="38" fill="#3f51b5"/>
<text x="1474.0" y="61.5" font-family="Liberation Serif" font-weight="bold" font-size="33" fill="#000" text-anchor="start" >RF</text>
<text x="1474.0" y="108.0" font-family="Liberation Serif" font-weight="bold" font-size="33" fill="#000" text-anchor="start" >CK</text>
<rect x="1430" y="984.3" width="38" height="38" fill="#4caf50"/>
<rect x="1430" y="1030.3" width="38" height="38" fill="#3f51b5"/>
<text x="1474.0" y="1014.8" font-family="Liberation Serif" font-weight="bold" font-size="33" fill="#000" text-anchor="start" >RF</text>
<text x="1474.0" y="1061.3" font-family="Liberation Serif" font-weight="bold" font-size="33" fill="#000" text-anchor="start" >CK</text>
<circle cx="2844.3" cy="51.7" r="15.0" fill="#cc2200" stroke="#9a1a00" stroke-width="2.3"/>
<text x="2869.5" y="61.7" font-family="Liberation Serif" font-weight="bold" font-size="33" fill="#000" text-anchor="start" >Anthocyanin</text>
<rect x="2830.8" y="83.9" width="27.0" height="27.0" fill="#ffff00" stroke="#c4c000" stroke-width="2.3"/>
<text x="2869.5" y="107.3" font-family="Liberation Serif" font-weight="bold" font-size="33" fill="#000" text-anchor="start" >Flavonol</text>
<path d="M2844.3 127.2 L2857.8 150.7 L2830.8 150.7 Z" fill="#00d0ff" stroke="#1aa0d0" stroke-width="2.3" stroke-linejoin="miter"/>
<text x="2869.5" y="153.6" font-family="Liberation Serif" font-weight="bold" font-size="33" fill="#000" text-anchor="start" >Seed-Flavanol</text>
<path d="M2844.3 206.4 L2857.8 182.9 L2830.8 182.9 Z" fill="#9d00d0" stroke="#6d1a90" stroke-width="2.3" stroke-linejoin="miter"/>
<text x="2869.5" y="199.2" font-family="Liberation Serif" font-weight="bold" font-size="33" fill="#000" text-anchor="start" >Skin-Flavanol</text>
<circle cx="2844.3" cy="1004.3" r="15.0" fill="#c00000" stroke="#900000" stroke-width="2.3"/>
<text x="2869.5" y="1014.3" font-family="Liberation Serif" font-weight="bold" font-size="33" fill="#000" text-anchor="start" >Anthocyanin</text>
<rect x="2830.8" y="1036.5" width="27.0" height="27.0" fill="#ffe72e" stroke="#c0b000" stroke-width="2.3"/>
<text x="2869.5" y="1059.9" font-family="Liberation Serif" font-weight="bold" font-size="33" fill="#000" text-anchor="start" >Flavonol</text>
<path d="M2844.3 1079.8 L2857.8 1103.3 L2830.8 1103.3 Z" fill="#00b0f0" stroke="#1a8cc0" stroke-width="2.3" stroke-linejoin="miter"/>
<text x="2869.5" y="1106.2" font-family="Liberation Serif" font-weight="bold" font-size="33" fill="#000" text-anchor="start" >Seed-Flavanol</text>
<path d="M2844.3 1159.0 L2857.8 1135.5 L2830.8 1135.5 Z" fill="#9a2ac8" stroke="#6a1a90" stroke-width="2.3" stroke-linejoin="miter"/>
<text x="2869.5" y="1151.8" font-family="Liberation Serif" font-weight="bold" font-size="33" fill="#000" text-anchor="start" >Skin-Flavanol</text>
<text x="444.4" y="243.7" font-family="Liberation Serif" font-weight="bold" font-size="33" fill="#237a28" text-anchor="end" >2021MSL-RF-2</text>
<text x="337.0" y="322.0" font-family="Liberation Serif" font-weight="bold" font-size="33" fill="#237a28" text-anchor="start" >2020CS-RF-1</text>
<text x="598.0" y="251.0" font-family="Liberation Serif" font-weight="bold" font-size="33" fill="#237a28" text-anchor="start" >2020CF-RF-2</text>
<text x="824.2" y="229.6" font-family="Liberation Serif" font-weight="bold" font-size="33" fill="#237a28" text-anchor="start" >2021CS-RF-2</text>
<text x="810.5" y="304.0" font-family="Liberation Serif" font-weight="bold" font-size="33" fill="#237a28" text-anchor="end" >2020CF-RF-3</text>
<text x="617.0" y="344.5" font-family="Liberation Serif" font-weight="bold" font-size="33" fill="#237a28" text-anchor="start" >2020CS-RF-3</text>
<text x="680.7" y="352.0" font-family="Liberation Serif" font-weight="bold" font-size="33" fill="#237a28" text-anchor="start" >2021MSL-RF-3</text>
<text x="645.2" y="391.7" font-family="Liberation Serif" font-weight="bold" font-size="33" fill="#237a28" text-anchor="start" >2021MSL-RF-1</text>
<text x="765.9" y="416.5" font-family="Liberation Serif" font-weight="bold" font-size="33" fill="#237a28" text-anchor="start" >2020CS-RF-2</text>
<text x="952.6" y="298.6" font-family="Liberation Serif" font-weight="bold" font-size="33" fill="#237a28" text-anchor="start" >2021CS-RF-3</text>
<text x="1241.0" y="296.5" font-family="Liberation Serif" font-weight="bold" font-size="33" fill="#237a28" text-anchor="end" >2020CF-RF-1</text>
<text x="963.0" y="340.8" font-family="Liberation Serif" font-weight="bold" font-size="33" fill="#237a28" text-anchor="start" >2021CS-RF-1</text>
<text x="959.8" y="348.0" font-family="Liberation Serif" font-weight="bold" font-size="33" fill="#237a28" text-anchor="start" >2020MSL-RF-1</text>
<text x="986.6" y="388.2" font-family="Liberation Serif" font-weight="bold" font-size="33" fill="#237a28" text-anchor="start" >2020MSL-RF-3</text>
<text x="1019.6" y="412.0" font-family="Liberation Serif" font-weight="bold" font-size="33" fill="#237a28" text-anchor="start" >2020MSL-RF-2</text>
<text x="819.8" y="463.3" font-family="Liberation Serif" font-weight="bold" font-size="33" fill="#237a28" text-anchor="start" >2021CF-RF-2</text>
<text x="970.3" y="507.6" font-family="Liberation Serif" font-weight="bold" font-size="33" fill="#237a28" text-anchor="start" >2021CF-RF-3</text>
<text x="1024.0" y="524.0" font-family="Liberation Serif" font-weight="bold" font-size="33" fill="#237a28" text-anchor="start" >2021CF-RF-1</text>
<text x="342.2" y="327.0" font-family="Liberation Serif" font-weight="bold" font-size="33" fill="#1e2d82" text-anchor="start" >2021CF-CK-1</text>
<text x="548.9" y="370.2" font-family="Liberation Serif" font-weight="bold" font-size="33" fill="#1e2d82" text-anchor="end" >2021CF-CK-3</text>
<text x="545.6" y="395.8" font-family="Liberation Serif" font-weight="bold" font-size="33" fill="#1e2d82" text-anchor="end" >2021CF-CK-2</text>
<text x="521.2" y="441.6" font-family="Liberation Serif" font-weight="bold" font-size="33" fill="#1e2d82" text-anchor="end" >2020MSL-CK-2</text>
<text x="534.6" y="498.4" font-family="Liberation Serif" font-weight="bold" font-size="33" fill="#1e2d82" text-anchor="end" >2020MSL-CK-3</text>
<text x="542.9" y="538.6" font-family="Liberation Serif" font-weight="bold" font-size="33" fill="#1e2d82" text-anchor="end" >2020MSL-CK-1</text>
<text x="322.3" y="580.8" font-family="Liberation Serif" font-weight="bold" font-size="33" fill="#1e2d82" text-anchor="start" >2021CS-CK-1</text>
<text x="370.7" y="583.0" font-family="Liberation Serif" font-weight="bold" font-size="33" fill="#1e2d82" text-anchor="start" >2021CS-CK-3</text>
<text x="614.0" y="478.8" font-family="Liberation Serif" font-weight="bold" font-size="33" fill="#1e2d82" text-anchor="start" >2020CS-CK-3</text>
<text x="660.4" y="519.0" font-family="Liberation Serif" font-weight="bold" font-size="33" fill="#1e2d82" text-anchor="start" >2021CS-CK-2</text>
<text x="668.0" y="522.0" font-family="Liberation Serif" font-weight="bold" font-size="33" fill="#1e2d82" text-anchor="start" >2020CF-CK-2</text>
<text x="569.7" y="622.0" font-family="Liberation Serif" font-weight="bold" font-size="33" fill="#1e2d82" text-anchor="start" >2020CF-CK-3</text>
<text x="595.5" y="664.3" font-family="Liberation Serif" font-weight="bold" font-size="33" fill="#1e2d82" text-anchor="start" >2020CF-CK-1</text>
<text x="1037.3" y="447.8" font-family="Liberation Serif" font-weight="bold" font-size="33" fill="#1e2d82" text-anchor="start" >2020CS-CK-2</text>
<text x="818.8" y="570.5" font-family="Liberation Serif" font-weight="bold" font-size="33" fill="#1e2d82" text-anchor="start" >2021MSL-CK-1</text>
<text x="943.5" y="564.3" font-family="Liberation Serif" font-weight="bold" font-size="33" fill="#1e2d82" text-anchor="start" >2021MSL-CK-3</text>
<text x="979.0" y="576.7" font-family="Liberation Serif" font-weight="bold" font-size="33" fill="#1e2d82" text-anchor="start" >2021MSL-CK-2</text>
<text x="849.7" y="616.9" font-family="Liberation Serif" font-weight="bold" font-size="33" fill="#1e2d82" text-anchor="start" >2020CS-CK-1</text>
<circle cx="465.4" cy="231.3" r="15.0" fill="#4cb04f" stroke="#2c8a31" stroke-width="2.3"/>
<circle cx="545.6" cy="310.6" r="15.0" fill="#4cb04f" stroke="#2c8a31" stroke-width="2.3"/>
<circle cx="596.0" cy="333.0" r="15.0" fill="#4cb04f" stroke="#2c8a31" stroke-width="2.3"/>
<circle cx="693.1" cy="275.9" r="15.0" fill="#4cb04f" stroke="#2c8a31" stroke-width="2.3"/>
<circle cx="665.0" cy="308.2" r="15.0" fill="#4cb04f" stroke="#2c8a31" stroke-width="2.3"/>
<circle cx="752.6" cy="342.9" r="15.0" fill="#4cb04f" stroke="#2c8a31" stroke-width="2.3"/>
<circle cx="831.2" cy="292.4" r="15.0" fill="#4cb04f" stroke="#2c8a31" stroke-width="2.3"/>
<circle cx="918.3" cy="256.2" r="15.0" fill="#4cb04f" stroke="#2c8a31" stroke-width="2.3"/>
<circle cx="931.1" cy="287.3" r="15.0" fill="#4cb04f" stroke="#2c8a31" stroke-width="2.3"/>
<circle cx="1031.0" cy="281.0" r="15.0" fill="#4cb04f" stroke="#2c8a31" stroke-width="2.3"/>
<circle cx="1030.0" cy="289.0" r="15.0" fill="#4cb04f" stroke="#2c8a31" stroke-width="2.3"/>
<circle cx="951.5" cy="329.5" r="15.0" fill="#4cb04f" stroke="#2c8a31" stroke-width="2.3"/>
<circle cx="944.3" cy="367.6" r="15.0" fill="#4cb04f" stroke="#2c8a31" stroke-width="2.3"/>
<circle cx="964.0" cy="377.0" r="15.0" fill="#4cb04f" stroke="#2c8a31" stroke-width="2.3"/>
<circle cx="997.0" cy="400.6" r="15.0" fill="#4cb04f" stroke="#2c8a31" stroke-width="2.3"/>
<circle cx="744.4" cy="405.7" r="15.0" fill="#4cb04f" stroke="#2c8a31" stroke-width="2.3"/>
<circle cx="912.6" cy="489.0" r="15.0" fill="#4cb04f" stroke="#2c8a31" stroke-width="2.3"/>
<circle cx="948.7" cy="497.3" r="15.0" fill="#4cb04f" stroke="#2c8a31" stroke-width="2.3"/>
<circle cx="1002.3" cy="513.8" r="15.0" fill="#4cb04f" stroke="#2c8a31" stroke-width="2.3"/>
<circle cx="559.7" cy="314.8" r="15.0" fill="#4152b8" stroke="#2b3896" stroke-width="2.3"/>
<circle cx="570.4" cy="357.8" r="15.0" fill="#4152b8" stroke="#2b3896" stroke-width="2.3"/>
<circle cx="568.0" cy="385.9" r="15.0" fill="#4152b8" stroke="#2b3896" stroke-width="2.3"/>
<circle cx="541.9" cy="431.3" r="15.0" fill="#4152b8" stroke="#2b3896" stroke-width="2.3"/>
<circle cx="555.3" cy="486.0" r="15.0" fill="#4152b8" stroke="#2b3896" stroke-width="2.3"/>
<circle cx="561.4" cy="496.3" r="15.0" fill="#4152b8" stroke="#2b3896" stroke-width="2.3"/>
<circle cx="646.0" cy="509.7" r="15.0" fill="#4152b8" stroke="#2b3896" stroke-width="2.3"/>
<circle cx="639.8" cy="541.6" r="15.0" fill="#4152b8" stroke="#2b3896" stroke-width="2.3"/>
<circle cx="535.7" cy="568.5" r="15.0" fill="#4152b8" stroke="#2b3896" stroke-width="2.3"/>
<circle cx="586.2" cy="571.5" r="15.0" fill="#4152b8" stroke="#2b3896" stroke-width="2.3"/>
<circle cx="667.6" cy="576.7" r="15.0" fill="#4152b8" stroke="#2b3896" stroke-width="2.3"/>
<circle cx="692.4" cy="615.9" r="15.0" fill="#4152b8" stroke="#2b3896" stroke-width="2.3"/>
<circle cx="1015.6" cy="436.5" r="15.0" fill="#4152b8" stroke="#2b3896" stroke-width="2.3"/>
<circle cx="829.0" cy="467.4" r="15.0" fill="#4152b8" stroke="#2b3896" stroke-width="2.3"/>
<circle cx="797.1" cy="558.1" r="15.0" fill="#4152b8" stroke="#2b3896" stroke-width="2.3"/>
<circle cx="920.8" cy="551.0" r="15.0" fill="#4152b8" stroke="#2b3896" stroke-width="2.3"/>
<circle cx="958.0" cy="565.4" r="15.0" fill="#4152b8" stroke="#2b3896" stroke-width="2.3"/>
<circle cx="829.0" cy="604.5" r="15.0" fill="#4152b8" stroke="#2b3896" stroke-width="2.3"/>
<text x="313.7" y="1257.7" font-family="Liberation Serif" font-weight="bold" font-size="33" fill="#237a28" text-anchor="start" >2020CF-RF-1</text>
<text x="567.4" y="1237.5" font-family="Liberation Serif" font-weight="bold" font-size="33" fill="#237a28" text-anchor="start" >2021CF-RF-1</text>
<text x="200.3" y="1312.4" font-family="Liberation Serif" font-weight="bold" font-size="33" fill="#237a28" text-anchor="start" >2020MSL-RF-2</text>
<text x="262.2" y="1312.4" font-family="Liberation Serif" font-weight="bold" font-size="33" fill="#237a28" text-anchor="start" >2021CS-RF-1</text>
<text x="325.0" y="1354.6" font-family="Liberation Serif" font-weight="bold" font-size="33" fill="#237a28" text-anchor="start" >2021CS-RF-3</text>
<text x="335.0" y="1354.6" font-family="Liberation Serif" font-weight="bold" font-size="33" fill="#237a28" text-anchor="start" >2021CF-RF-2</text>
<text x="621.0" y="1282.0" font-family="Liberation Serif" font-weight="bold" font-size="33" fill="#237a28" text-anchor="start" >2020MSL-RF-3</text>
<text x="654.0" y="1282.0" font-family="Liberation Serif" font-weight="bold" font-size="33" fill="#237a28" text-anchor="start" >2021MSL-RF-1</text>
<text x="579.8" y="1327.4" font-family="Liberation Serif" font-weight="bold" font-size="33" fill="#237a28" text-anchor="start" >2021CS-RF-2</text>
<text x="559.2" y="1342.9" font-family="Liberation Serif" font-weight="bold" font-size="33" fill="#237a28" text-anchor="start" >2021CF-RF-3</text>
<text x="320.1" y="1405.5" font-family="Liberation Serif" font-weight="bold" font-size="33" fill="#237a28" text-anchor="start" >2020CF-RF-3</text>
<text x="583.1" y="1436.0" font-family="Liberation Serif" font-weight="bold" font-size="33" fill="#237a28" text-anchor="start" >2021MSL-RF-1</text>
<text x="342.8" y="1456.3" font-family="Liberation Serif" font-weight="bold" font-size="33" fill="#237a28" text-anchor="start" >2020CS-RF-2</text>
<text x="602.2" y="1479.1" font-family="Liberation Serif" font-weight="bold" font-size="33" fill="#237a28" text-anchor="start" >2020CF-RF-2</text>
<text x="272.7" y="1492.4" font-family="Liberation Serif" font-weight="bold" font-size="33" fill="#237a28" text-anchor="start" >2021MSL-RF-3</text>
<text x="320.1" y="1532.6" font-family="Liberation Serif" font-weight="bold" font-size="33" fill="#237a28" text-anchor="start" >2020CS-RF-3</text>
<text x="557.2" y="1523.3" font-family="Liberation Serif" font-weight="bold" font-size="33" fill="#237a28" text-anchor="start" >2020CS-RF-1</text>
<text x="575.8" y="1586.2" font-family="Liberation Serif" font-weight="bold" font-size="33" fill="#237a28" text-anchor="start" >2021MSL-RF-2</text>
<text x="852.3" y="1165.5" font-family="Liberation Serif" font-weight="bold" font-size="33" fill="#1e2d82" text-anchor="start" >2020CS-CK-2</text>
<text x="976.6" y="1213.9" font-family="Liberation Serif" font-weight="bold" font-size="33" fill="#1e2d82" text-anchor="start" >2021MSL-CK-2</text>
<text x="988.0" y="1267.0" font-family="Liberation Serif" font-weight="bold" font-size="33" fill="#1e2d82" text-anchor="start" >2021MSL-CK-3</text>
<text x="1084.7" y="1292.6" font-family="Liberation Serif" font-weight="bold" font-size="33" fill="#1e2d82" text-anchor="start" >2020CS-CK-1</text>
<text x="1037.3" y="1313.5" font-family="Liberation Serif" font-weight="bold" font-size="33" fill="#1e2d82" text-anchor="start" >2021MSL-CK-1</text>
<text x="953.8" y="1332.4" font-family="Liberation Serif" font-weight="bold" font-size="33" fill="#1e2d82" text-anchor="start" >2020CS-CK-3</text>
<text x="1003.9" y="1373.4" font-family="Liberation Serif" font-weight="bold" font-size="33" fill="#1e2d82" text-anchor="start" >2020CF-CK-1</text>
<text x="761.2" y="1393.4" font-family="Liberation Serif" font-weight="bold" font-size="33" fill="#1e2d82" text-anchor="start" >2020CF-CK-3</text>
<text x="764.0" y="1395.0" font-family="Liberation Serif" font-weight="bold" font-size="33" fill="#1e2d82" text-anchor="start" >2020CF-CK-2</text>
<text x="1077.3" y="1412.4" font-family="Liberation Serif" font-weight="bold" font-size="33" fill="#1e2d82" text-anchor="start" >2021CS-CK-3</text>
<text x="692.8" y="1436.0" font-family="Liberation Serif" font-weight="bold" font-size="33" fill="#1e2d82" text-anchor="start" >2021CF-CK-1</text>
<text x="735.1" y="1443.1" font-family="Liberation Serif" font-weight="bold" font-size="33" fill="#1e2d82" text-anchor="start" >2021CS-CK-2</text>
<text x="761.8" y="1480.7" font-family="Liberation Serif" font-weight="bold" font-size="33" fill="#1e2d82" text-anchor="start" >2021CS-CK-1</text>
<text x="1009.4" y="1468.0" font-family="Liberation Serif" font-weight="bold" font-size="33" fill="#1e2d82" text-anchor="start" >2021CF-CK-3</text>
<text x="1229.9" y="1473.6" font-family="Liberation Serif" font-weight="bold" font-size="33" fill="#1e2d82" text-anchor="end" >2020MSL-CK-1</text>
<text x="1265.5" y="1468.0" font-family="Liberation Serif" font-weight="bold" font-size="33" fill="#1e2d82" text-anchor="end" >2021CF-CK-2</text>
<text x="871.4" y="1519.2" font-family="Liberation Serif" font-weight="bold" font-size="33" fill="#1e2d82" text-anchor="start" >2020MSL-CK-3</text>
<text x="814.6" y="1542.6" font-family="Liberation Serif" font-weight="bold" font-size="33" fill="#1e2d82" text-anchor="start" >2020MSL-CK-2</text>
<circle cx="551.9" cy="1257.9" r="15.0" fill="#4cb04f" stroke="#2c8a31" stroke-width="2.3"/>
<circle cx="518.9" cy="1278.4" r="15.0" fill="#4cb04f" stroke="#2c8a31" stroke-width="2.3"/>
<circle cx="600.8" cy="1273.5" r="15.0" fill="#4cb04f" stroke="#2c8a31" stroke-width="2.3"/>
<circle cx="633.3" cy="1272.0" r="15.0" fill="#4cb04f" stroke="#2c8a31" stroke-width="2.3"/>
<circle cx="439.5" cy="1301.0" r="15.0" fill="#4cb04f" stroke="#2c8a31" stroke-width="2.3"/>
<circle cx="470.4" cy="1299.0" r="15.0" fill="#4cb04f" stroke="#2c8a31" stroke-width="2.3"/>
<circle cx="542.6" cy="1298.5" r="15.0" fill="#4cb04f" stroke="#2c8a31" stroke-width="2.3"/>
<circle cx="538.8" cy="1312.2" r="15.0" fill="#4cb04f" stroke="#2c8a31" stroke-width="2.3"/>
<circle cx="572.5" cy="1320.4" r="15.0" fill="#4cb04f" stroke="#2c8a31" stroke-width="2.3"/>
<circle cx="537.4" cy="1343.1" r="15.0" fill="#4cb04f" stroke="#2c8a31" stroke-width="2.3"/>
<circle cx="531.3" cy="1395.3" r="15.0" fill="#4cb04f" stroke="#2c8a31" stroke-width="2.3"/>
<circle cx="562.3" cy="1423.5" r="15.0" fill="#4cb04f" stroke="#2c8a31" stroke-width="2.3"/>
<circle cx="552.0" cy="1445.0" r="15.0" fill="#4cb04f" stroke="#2c8a31" stroke-width="2.3"/>
<circle cx="579.9" cy="1467.6" r="15.0" fill="#4cb04f" stroke="#2c8a31" stroke-width="2.3"/>
<circle cx="511.9" cy="1481.0" r="15.0" fill="#4cb04f" stroke="#2c8a31" stroke-width="2.3"/>
<circle cx="529.4" cy="1520.2" r="15.0" fill="#4cb04f" stroke="#2c8a31" stroke-width="2.3"/>
<circle cx="542.8" cy="1545.0" r="15.0" fill="#4cb04f" stroke="#2c8a31" stroke-width="2.3"/>
<circle cx="555.2" cy="1575.9" r="15.0" fill="#4cb04f" stroke="#2c8a31" stroke-width="2.3"/>
<circle cx="949.0" cy="1192.2" r="15.0" fill="#4152b8" stroke="#2b3896" stroke-width="2.3"/>
<circle cx="961.3" cy="1234.0" r="15.0" fill="#4152b8" stroke="#2b3896" stroke-width="2.3"/>
<circle cx="967.0" cy="1255.8" r="15.0" fill="#4152b8" stroke="#2b3896" stroke-width="2.3"/>
<circle cx="938.6" cy="1288.5" r="15.0" fill="#4152b8" stroke="#2b3896" stroke-width="2.3"/>
<circle cx="1061.0" cy="1281.2" r="15.0" fill="#4152b8" stroke="#2b3896" stroke-width="2.3"/>
<circle cx="1015.5" cy="1300.0" r="15.0" fill="#4152b8" stroke="#2b3896" stroke-width="2.3"/>
<circle cx="982.7" cy="1362.3" r="15.0" fill="#4152b8" stroke="#2b3896" stroke-width="2.3"/>
<circle cx="977.1" cy="1381.2" r="15.0" fill="#4152b8" stroke="#2b3896" stroke-width="2.3"/>
<circle cx="949.3" cy="1431.3" r="15.0" fill="#4152b8" stroke="#2b3896" stroke-width="2.3"/>
<circle cx="903.7" cy="1456.9" r="15.0" fill="#4152b8" stroke="#2b3896" stroke-width="2.3"/>
<circle cx="987.2" cy="1453.6" r="15.0" fill="#4152b8" stroke="#2b3896" stroke-width="2.3"/>
<circle cx="979.4" cy="1471.4" r="15.0" fill="#4152b8" stroke="#2b3896" stroke-width="2.3"/>
<circle cx="1061.8" cy="1433.5" r="15.0" fill="#4152b8" stroke="#2b3896" stroke-width="2.3"/>
<circle cx="1048.4" cy="1458.0" r="15.0" fill="#4152b8" stroke="#2b3896" stroke-width="2.3"/>
<circle cx="925.9" cy="1493.6" r="15.0" fill="#4152b8" stroke="#2b3896" stroke-width="2.3"/>
<circle cx="947.8" cy="1427.0" r="15.0" fill="#4152b8" stroke="#2b3896" stroke-width="2.3"/>
<text x="2634.2" y="322.6" font-family="Liberation Serif" font-weight="bold" font-size="33" fill="#8a0f0f" text-anchor="end" >Mv-ac</text>
<text x="2653.0" y="310.0" font-family="Liberation Serif" font-weight="bold" font-size="33" fill="#8a0f0f" text-anchor="start" >My-caf</text>
<text x="2668.0" y="320.0" font-family="Liberation Serif" font-weight="bold" font-size="33" fill="#8a0f0f" text-anchor="start" >My-glu</text>
<text x="2576.7" y="359.7" font-family="Liberation Serif" font-weight="bold" font-size="33" fill="#8a0f0f" text-anchor="end" >Mv-co</text>
<text x="2692.0" y="361.0" font-family="Liberation Serif" font-weight="bold" font-size="33" fill="#8a0f0f" text-anchor="start" >Pt-caf</text>
<text x="2700.0" y="371.0" font-family="Liberation Serif" font-weight="bold" font-size="33" fill="#8a0f0f" text-anchor="start" >Pt-glu</text>
<text x="2618.0" y="417.0" font-family="Liberation Serif" font-weight="bold" font-size="33" fill="#8a0f0f" text-anchor="start" >Dp-caf</text>
<text x="2636.0" y="423.0" font-family="Liberation Serif" font-weight="bold" font-size="33" fill="#8a0f0f" text-anchor="start" >Pt-ac</text>
<text x="2758.4" y="419.4" font-family="Liberation Serif" font-weight="bold" font-size="33" fill="#8a0f0f" text-anchor="start" >Dp</text>
<text x="2678.7" y="462.7" font-family="Liberation Serif" font-weight="bold" font-size="33" fill="#8a0f0f" text-anchor="start" >Cy-ac</text>
<text x="2618.2" y="482.5" font-family="Liberation Serif" font-weight="bold" font-size="33" fill="#8a0f0f" text-anchor="start" >Pn-co</text>
<text x="2599.4" y="501.3" font-family="Liberation Serif" font-weight="bold" font-size="33" fill="#8a0f0f" text-anchor="start" >Cy-caf</text>
<text x="2592.4" y="521.2" font-family="Liberation Serif" font-weight="bold" font-size="33" fill="#8a0f0f" text-anchor="start" >Cy-glu</text>
<text x="2694.6" y="521.2" font-family="Liberation Serif" font-weight="bold" font-size="33" fill="#8a0f0f" text-anchor="start" >Pn-glu</text>
<text x="2639.0" y="558.9" font-family="Liberation Serif" font-weight="bold" font-size="33" fill="#8a0f0f" text-anchor="end" >Pn-caf</text>
<text x="2676.7" y="562.9" font-family="Liberation Serif" font-weight="bold" font-size="33" fill="#8a0f0f" text-anchor="start" >Pn-ac</text>
<text x="2573.6" y="631.3" font-family="Liberation Serif" font-weight="bold" font-size="33" fill="#8a0f0f" text-anchor="start" >Cy-co</text>
<text x="2477.0" y="691.7" font-family="Liberation Serif" font-weight="bold" font-size="33" fill="#8a0f0f" text-anchor="start" >Dp-co</text>
<text x="1761.4" y="134.8" font-family="Liberation Serif" font-weight="bold" font-size="33" fill="#a9a500" text-anchor="start" >My-ga</text>
<text x="1989.3" y="96.7" font-family="Liberation Serif" font-weight="bold" font-size="33" fill="#a9a500" text-anchor="end" >My-gluc</text>
<text x="2072.8" y="96.7" font-family="Liberation Serif" font-weight="bold" font-size="33" fill="#a9a500" text-anchor="start" >Qu-ga</text>
<text x="2114.0" y="175.0" font-family="Liberation Serif" font-weight="bold" font-size="33" fill="#a9a500" text-anchor="end" >Qu-glu</text>
<text x="2222.7" y="163.9" font-family="Liberation Serif" font-weight="bold" font-size="33" fill="#a9a500" text-anchor="start" >My-glu</text>
<text x="2139.2" y="233.0" font-family="Liberation Serif" font-weight="bold" font-size="33" fill="#a9a500" text-anchor="start" >Sy-glu</text>
<text x="2288.7" y="233.0" font-family="Liberation Serif" font-weight="bold" font-size="33" fill="#a9a500" text-anchor="start" >La-glu</text>
<text x="2378.4" y="293.8" font-family="Liberation Serif" font-weight="bold" font-size="33" fill="#a9a500" text-anchor="end" >Qu-gluc</text>
<text x="2408.2" y="341.2" font-family="Liberation Serif" font-weight="bold" font-size="33" fill="#a9a500" text-anchor="start" >Is-glu</text>
<text x="2029.9" y="375.7" font-family="Liberation Serif" font-weight="bold" font-size="33" fill="#a9a500" text-anchor="start" >Ka-ga</text>
<text x="2171.1" y="373.0" font-family="Liberation Serif" font-weight="bold" font-size="33" fill="#a9a500" text-anchor="start" >Ka-glu</text>
<text x="1987.6" y="495.3" font-family="Liberation Serif" font-weight="bold" font-size="33" fill="#751a8a" text-anchor="start" >Skin-EGC</text>
<text x="1921.6" y="522.0" font-family="Liberation Serif" font-weight="bold" font-size="33" fill="#751a8a" text-anchor="end" >Skin-EGCG</text>
<text x="1994.8" y="541.6" font-family="Liberation Serif" font-weight="bold" font-size="33" fill="#751a8a" text-anchor="start" >Skin-C</text>
<text x="1955.7" y="562.3" font-family="Liberation Serif" font-weight="bold" font-size="33" fill="#751a8a" text-anchor="end" >Skin-GC</text>
<text x="2001.2" y="588.5" font-family="Liberation Serif" font-weight="bold" font-size="33" fill="#751a8a" text-anchor="start" >Skin-EC</text>
<text x="1919.8" y="652.4" font-family="Liberation Serif" font-weight="bold" font-size="33" fill="#751a8a" text-anchor="start" >Skin-ECG</text>
<text x="1804.3" y="726.6" font-family="Liberation Serif" font-weight="bold" font-size="33" fill="#1a8bb8" text-anchor="end" >Seed-GC</text>
<text x="1889.9" y="724.5" font-family="Liberation Serif" font-weight="bold" font-size="33" fill="#1a8bb8" text-anchor="start" >Seed-EGCG</text>
<text x="1947.6" y="787.4" font-family="Liberation Serif" font-weight="bold" font-size="33" fill="#1a8bb8" text-anchor="end" >Seed-EGC</text>
<text x="2030.5" y="753.6" font-family="Liberation Serif" font-weight="bold" font-size="33" fill="#1a8bb8" text-anchor="start" >Seed-EC</text>
<text x="2050.3" y="793.2" font-family="Liberation Serif" font-weight="bold" font-size="33" fill="#1a8bb8" text-anchor="start" >Seed-C</text>
<text x="2247.0" y="780.8" font-family="Liberation Serif" font-weight="bold" font-size="33" fill="#1a8bb8" text-anchor="start" >Seed-ECG</text>
<circle cx="2653.9" cy="310.7" r="15.0" fill="#cc2200" stroke="#9e1a00" stroke-width="2.3"/>
<circle cx="2598.5" cy="349.2" r="15.0" fill="#cc2200" stroke="#9e1a00" stroke-width="2.3"/>
<circle cx="2699.4" cy="335.9" r="15.0" fill="#cc2200" stroke="#9e1a00" stroke-width="2.3"/>
<circle cx="2718.4" cy="345.7" r="15.0" fill="#cc2200" stroke="#9e1a00" stroke-width="2.3"/>
<circle cx="2730.7" cy="387.2" r="15.0" fill="#cc2200" stroke="#9e1a00" stroke-width="2.3"/>
<circle cx="2745.2" cy="397.1" r="15.0" fill="#cc2200" stroke="#9e1a00" stroke-width="2.3"/>
<circle cx="2728.7" cy="403.7" r="15.0" fill="#cc2200" stroke="#9e1a00" stroke-width="2.3"/>
<circle cx="2707.2" cy="407.8" r="15.0" fill="#cc2200" stroke="#9e1a00" stroke-width="2.3"/>
<circle cx="2729.5" cy="413.2" r="15.0" fill="#cc2200" stroke="#9e1a00" stroke-width="2.3"/>
<circle cx="2715.4" cy="472.6" r="15.0" fill="#cc2200" stroke="#9e1a00" stroke-width="2.3"/>
<circle cx="2741.2" cy="475.6" r="15.0" fill="#cc2200" stroke="#9e1a00" stroke-width="2.3"/>
<circle cx="2720.0" cy="482.0" r="15.0" fill="#cc2200" stroke="#9e1a00" stroke-width="2.3"/>
<circle cx="2711.5" cy="491.4" r="15.0" fill="#cc2200" stroke="#9e1a00" stroke-width="2.3"/>
<circle cx="2705.5" cy="512.3" r="15.0" fill="#cc2200" stroke="#9e1a00" stroke-width="2.3"/>
<circle cx="2654.9" cy="549.0" r="15.0" fill="#cc2200" stroke="#9e1a00" stroke-width="2.3"/>
<circle cx="2655.0" cy="553.0" r="15.0" fill="#cc2200" stroke="#9e1a00" stroke-width="2.3"/>
<circle cx="2551.7" cy="620.4" r="15.0" fill="#cc2200" stroke="#9e1a00" stroke-width="2.3"/>
<circle cx="2456.0" cy="679.4" r="15.0" fill="#cc2200" stroke="#9e1a00" stroke-width="2.3"/>
<rect x="1726.3" y="110.0" width="27.0" height="27.0" fill="#ffff00" stroke="#b8b800" stroke-width="2.3"/>
<rect x="1996.4" y="71.5" width="27.0" height="27.0" fill="#ffff00" stroke="#b8b800" stroke-width="2.3"/>
<rect x="2038.7" y="71.5" width="27.0" height="27.0" fill="#ffff00" stroke="#b8b800" stroke-width="2.3"/>
<rect x="2121.3" y="150.8" width="27.0" height="27.0" fill="#ffff00" stroke="#b8b800" stroke-width="2.3"/>
<rect x="2187.9" y="138.0" width="27.0" height="27.0" fill="#ffff00" stroke="#b8b800" stroke-width="2.3"/>
<rect x="2170.0" y="169.0" width="27.0" height="27.0" fill="#ffff00" stroke="#b8b800" stroke-width="2.3"/>
<rect x="2254.5" y="207.1" width="27.0" height="27.0" fill="#ffff00" stroke="#b8b800" stroke-width="2.3"/>
<rect x="2384.9" y="269.0" width="27.0" height="27.0" fill="#ffff00" stroke="#b8b800" stroke-width="2.3"/>
<rect x="2433.5" y="279.3" width="27.0" height="27.0" fill="#ffff00" stroke="#b8b800" stroke-width="2.3"/>
<rect x="1995.8" y="350.8" width="27.0" height="27.0" fill="#ffff00" stroke="#b8b800" stroke-width="2.3"/>
<rect x="2137.0" y="347.7" width="27.0" height="27.0" fill="#ffff00" stroke="#b8b800" stroke-width="2.3"/>
<path d="M1825.0 699.2 L1838.5 722.7 L1811.5 722.7 Z" fill="#00cdf6" stroke="#1a8fc0" stroke-width="2.3" stroke-linejoin="miter"/>
<path d="M1976.3 735.0 L1989.8 758.5 L1962.8 758.5 Z" fill="#00cdf6" stroke="#1a8fc0" stroke-width="2.3" stroke-linejoin="miter"/>
<path d="M1969.6 762.5 L1983.1 786.0 L1956.1 786.0 Z" fill="#00cdf6" stroke="#1a8fc0" stroke-width="2.3" stroke-linejoin="miter"/>
<path d="M2029.7 765.5 L2043.2 789.0 L2016.2 789.0 Z" fill="#00cdf6" stroke="#1a8fc0" stroke-width="2.3" stroke-linejoin="miter"/>
<path d="M2091.0 764.0 L2104.5 787.5 L2077.5 787.5 Z" fill="#00cdf6" stroke="#1a8fc0" stroke-width="2.3" stroke-linejoin="miter"/>
<path d="M2227.2 753.0 L2240.7 776.5 L2213.7 776.5 Z" fill="#00cdf6" stroke="#1a8fc0" stroke-width="2.3" stroke-linejoin="miter"/>
<path d="M1943.3 526.3 L1956.8 502.8 L1929.8 502.8 Z" fill="#a000d0" stroke="#6e0a98" stroke-width="2.3" stroke-linejoin="miter"/>
<path d="M1973.2 530.3 L1986.7 506.8 L1959.7 506.8 Z" fill="#a000d0" stroke="#6e0a98" stroke-width="2.3" stroke-linejoin="miter"/>
<path d="M1973.2 545.8 L1986.7 522.3 L1959.7 522.3 Z" fill="#a000d0" stroke="#6e0a98" stroke-width="2.3" stroke-linejoin="miter"/>
<path d="M1976.3 565.5 L1989.8 542.0 L1962.8 542.0 Z" fill="#a000d0" stroke="#6e0a98" stroke-width="2.3" stroke-linejoin="miter"/>
<path d="M1980.6 593.7 L1994.1 570.2 L1967.1 570.2 Z" fill="#a000d0" stroke="#6e0a98" stroke-width="2.3" stroke-linejoin="miter"/>
<path d="M1899.2 657.6 L1912.7 634.1 L1885.7 634.1 Z" fill="#a000d0" stroke="#6e0a98" stroke-width="2.3" stroke-linejoin="miter"/>
<text x="1950.9" y="1131.2" font-family="Liberation Serif" font-weight="bold" font-size="33" fill="#7a0f0f" text-anchor="end" >Mv-caf</text>
<text x="2020.0" y="1120.9" font-family="Liberation Serif" font-weight="bold" font-size="33" fill="#7a0f0f" text-anchor="start" >Mv-glu</text>
<text x="1923.1" y="1179.7" font-family="Liberation Serif" font-weight="bold" font-size="33" fill="#7a0f0f" text-anchor="end" >Mv-ac</text>
<text x="1991.1" y="1195.2" font-family="Liberation Serif" font-weight="bold" font-size="33" fill="#7a0f0f" text-anchor="start" >Mv-co</text>
<text x="1948.8" y="1327.1" font-family="Liberation Serif" font-weight="bold" font-size="33" fill="#a29a22" text-anchor="start" >Is-glu</text>
<text x="1881.8" y="1355.2" font-family="Liberation Serif" font-weight="bold" font-size="33" fill="#a29a22" text-anchor="end" >Qu-gluc</text>
<text x="1839.7" y="1486.7" font-family="Liberation Serif" font-weight="bold" font-size="33" fill="#a29a22" text-anchor="start" >La-glu</text>
<text x="1795.0" y="1504.8" font-family="Liberation Serif" font-weight="bold" font-size="33" fill="#a29a22" text-anchor="end" >My-glu</text>
<text x="1812.0" y="1536.5" font-family="Liberation Serif" font-weight="bold" font-size="33" fill="#a29a22" text-anchor="start" >Sy-glu</text>
<text x="1916.2" y="1565.3" font-family="Liberation Serif" font-weight="bold" font-size="33" fill="#a29a22" text-anchor="start" >Qu-ga</text>
<text x="1706.9" y="1608.0" font-family="Liberation Serif" font-weight="bold" font-size="33" fill="#a29a22" text-anchor="start" >Qu-glu</text>
<text x="1957.9" y="1613.9" font-family="Liberation Serif" font-weight="bold" font-size="33" fill="#a29a22" text-anchor="start" >My-gluc</text>
<text x="2602.6" y="1361.7" font-family="Liberation Serif" font-weight="bold" font-size="33" fill="#1a74ac" text-anchor="start" >Seed-EGC</text>
<text x="2537.3" y="1403.3" font-family="Liberation Serif" font-weight="bold" font-size="33" fill="#1a74ac" text-anchor="start" >Seed-EGCG</text>
<circle cx="1970.5" cy="1119.9" r="15.0" fill="#bd0000" stroke="#880000" stroke-width="2.3"/>
<circle cx="1999.4" cy="1109.6" r="15.0" fill="#bd0000" stroke="#880000" stroke-width="2.3"/>
<circle cx="1942.7" cy="1168.4" r="15.0" fill="#bd0000" stroke="#880000" stroke-width="2.3"/>
<circle cx="1970.5" cy="1183.8" r="15.0" fill="#bd0000" stroke="#880000" stroke-width="2.3"/>
<circle cx="2072.6" cy="1082.8" r="15.0" fill="#bd0000" stroke="#880000" stroke-width="2.3"/>
<circle cx="2075.7" cy="1065.3" r="15.0" fill="#bd0000" stroke="#880000" stroke-width="2.3"/>
<circle cx="2099.4" cy="1064.2" r="15.0" fill="#bd0000" stroke="#880000" stroke-width="2.3"/>
<circle cx="2100.4" cy="1051.9" r="15.0" fill="#bd0000" stroke="#880000" stroke-width="2.3"/>
<circle cx="2116.9" cy="1049.8" r="15.0" fill="#bd0000" stroke="#880000" stroke-width="2.3"/>
<circle cx="2129.3" cy="1058.0" r="15.0" fill="#bd0000" stroke="#880000" stroke-width="2.3"/>
<circle cx="2186.0" cy="1033.3" r="15.0" fill="#bd0000" stroke="#880000" stroke-width="2.3"/>
<circle cx="2201.4" cy="1016.8" r="15.0" fill="#bd0000" stroke="#880000" stroke-width="2.3"/>
<circle cx="2230.3" cy="1016.3" r="15.0" fill="#bd0000" stroke="#880000" stroke-width="2.3"/>
<circle cx="2229.5" cy="1026.0" r="15.0" fill="#bd0000" stroke="#880000" stroke-width="2.3"/>
<circle cx="2250.0" cy="1014.7" r="15.0" fill="#bd0000" stroke="#880000" stroke-width="2.3"/>
<circle cx="2307.0" cy="1033.3" r="15.0" fill="#bd0000" stroke="#880000" stroke-width="2.3"/>
<circle cx="2301.4" cy="1042.0" r="15.0" fill="#bd0000" stroke="#880000" stroke-width="2.3"/>
<circle cx="2372.6" cy="1069.2" r="15.0" fill="#bd0000" stroke="#880000" stroke-width="2.3"/>
<circle cx="2446.8" cy="1115.0" r="15.0" fill="#bd0000" stroke="#880000" stroke-width="2.3"/>
<rect x="1914.6" y="1301.2" width="27.0" height="27.0" fill="#ffe733" stroke="#b0a010" stroke-width="2.3"/>
<rect x="1888.2" y="1329.3" width="27.0" height="27.0" fill="#ffe733" stroke="#b0a010" stroke-width="2.3"/>
<rect x="1803.8" y="1462.5" width="27.0" height="27.0" fill="#ffe733" stroke="#b0a010" stroke-width="2.3"/>
<rect x="1732.1" y="1519.1" width="27.0" height="27.0" fill="#ffe733" stroke="#b0a010" stroke-width="2.3"/>
<rect x="1742.0" y="1544.9" width="27.0" height="27.0" fill="#ffe733" stroke="#b0a010" stroke-width="2.3"/>
<rect x="1777.7" y="1511.1" width="27.0" height="27.0" fill="#ffe733" stroke="#b0a010" stroke-width="2.3"/>
<rect x="1887.8" y="1572.7" width="27.0" height="27.0" fill="#ffe733" stroke="#b0a010" stroke-width="2.3"/>
<rect x="1923.5" y="1587.5" width="27.0" height="27.0" fill="#ffe733" stroke="#b0a010" stroke-width="2.3"/>
<rect x="2275.3" y="1380.4" width="27.0" height="27.0" fill="#ffe733" stroke="#b0a010" stroke-width="2.3"/>
<rect x="2369.4" y="1444.1" width="27.0" height="27.0" fill="#ffe733" stroke="#b0a010" stroke-width="2.3"/>
<rect x="2095.8" y="1731.5" width="27.0" height="27.0" fill="#ffe733" stroke="#b0a010" stroke-width="2.3"/>
<path d="M2557.6 1243.5 L2571.1 1267.0 L2544.1 1267.0 Z" fill="#00a9ea" stroke="#1a78b8" stroke-width="2.3" stroke-linejoin="miter"/>
<path d="M2590.2 1331.5 L2603.7 1355.0 L2576.7 1355.0 Z" fill="#00a9ea" stroke="#1a78b8" stroke-width="2.3" stroke-linejoin="miter"/>
<path d="M2618.3 1373.2 L2631.8 1396.7 L2604.8 1396.7 Z" fill="#00a9ea" stroke="#1a78b8" stroke-width="2.3" stroke-linejoin="miter"/>
<path d="M2731.9 1375.5 L2745.4 1399.0 L2718.4 1399.0 Z" fill="#00a9ea" stroke="#1a78b8" stroke-width="2.3" stroke-linejoin="miter"/>
<path d="M2764.5 1368.5 L2778.0 1392.0 L2751.0 1392.0 Z" fill="#00a9ea" stroke="#1a78b8" stroke-width="2.3" stroke-linejoin="miter"/>
<path d="M2613.8 1513.8 L2627.3 1537.3 L2600.3 1537.3 Z" fill="#00a9ea" stroke="#1a78b8" stroke-width="2.3" stroke-linejoin="miter"/>
<path d="M2283.4 1573.5 L2296.9 1550.0 L2269.9 1550.0 Z" fill="#9a2ac4" stroke="#6a1a92" stroke-width="2.3" stroke-linejoin="miter"/>
<path d="M2337.6 1549.1 L2351.1 1525.6 L2324.1 1525.6 Z" fill="#9a2ac4" stroke="#6a1a92" stroke-width="2.3" stroke-linejoin="miter"/>
<path d="M2340.3 1547.5 L2353.8 1524.0 L2326.8 1524.0 Z" fill="#9a2ac4" stroke="#6a1a92" stroke-width="2.3" stroke-linejoin="miter"/>
<path d="M2363.3 1533.5 L2376.8 1510.0 L2349.8 1510.0 Z" fill="#9a2ac4" stroke="#6a1a92" stroke-width="2.3" stroke-linejoin="miter"/>
<path d="M2370.1 1529.5 L2383.6 1506.0 L2356.6 1506.0 Z" fill="#9a2ac4" stroke="#6a1a92" stroke-width="2.3" stroke-linejoin="miter"/>
<path d="M2431.1 1553.2 L2444.6 1529.7 L2417.6 1529.7 Z" fill="#9a2ac4" stroke="#6a1a92" stroke-width="2.3" stroke-linejoin="miter"/>
</svg>
</body></html>
